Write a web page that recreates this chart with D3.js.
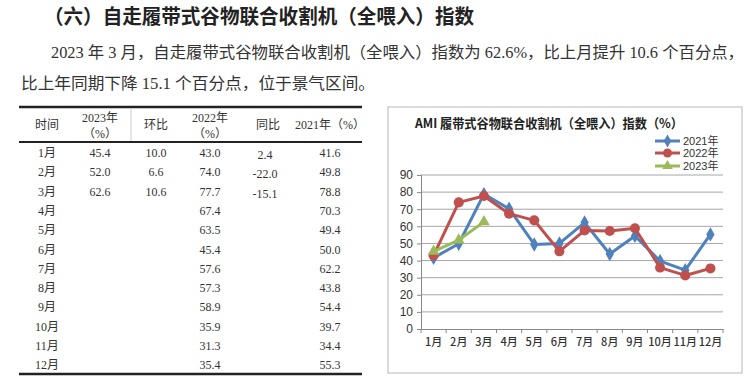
<!DOCTYPE html>
<html><head><meta charset="utf-8">
<script src="https://cdn.jsdelivr.net/npm/d3@7/dist/d3.min.js"></script>
<style>
html,body{margin:0;padding:0;background:#fff;}
svg{display:block;}
</style></head>
<body>
<svg id="c" width="750" height="385"></svg>
<script>
const months = ["1月","2月","3月","4月","5月","6月","7月","8月","9月","10月","11月","12月"];
const v2021 = [41.6,49.8,78.8,70.3,49.4,50.0,62.2,43.8,54.4,39.7,34.4,55.3];
const v2022 = [43.0,74.0,77.7,67.4,63.5,45.4,57.6,57.3,58.9,35.9,31.3,35.4];
const v2023 = [45.4,52.0,62.6];
const hb = ["10.0","6.6","10.6"];
const tb = ["2.4","-22.0","-15.1"];
const t2021 = ["41.6","49.8","78.8","70.3","49.4","50.0","62.2","43.8","54.4","39.7","34.4","55.3"];
const t2022 = ["43.0","74.0","77.7","67.4","63.5","45.4","57.6","57.3","58.9","35.9","31.3","35.4"];
const t2023 = ["45.4","52.0","62.6"];
const yTicks = [0,10,20,30,40,50,60,70,80,90];
const seriesNames = ["2021年","2022年","2023年"];
const colors = ["#4F81BD","#C0504D","#9BBB59"];

const svg = d3.select("#c");
const CJK = "'Noto Sans CJK SC','Noto Sans',sans-serif";
const SERIF = "'Liberation Serif','DejaVu Serif','Noto Sans CJK SC',serif";

// Title and paragraph
svg.append("text").attr("x",44).attr("y",24)
  .attr("font-family",CJK).attr("font-weight",700).attr("font-size",20).attr("fill","#222")
  .attr("textLength",430).attr("lengthAdjust","spacingAndGlyphs")
  .text("（六）自走履带式谷物联合收割机（全喂入）指数");
svg.append("text").attr("x",51).attr("y",58)
  .attr("font-family",SERIF).attr("font-size",16).attr("fill","#333")
  .attr("textLength",693).attr("lengthAdjust","spacingAndGlyphs")
  .text("2023 年 3 月，自走履带式谷物联合收割机（全喂入）指数为 62.6%，比上月提升 10.6 个百分点，");
svg.append("text").attr("x",21).attr("y",89)
  .attr("font-family",SERIF).attr("font-size",16).attr("fill","#333")
  .attr("textLength",354).attr("lengthAdjust","spacingAndGlyphs")
  .text("比上年同期下降 15.1 个百分点，位于景气区间。");

// Table
const tbl = svg.append("g");
const colX = [47,100,156,210,268,330];
tbl.append("line").attr("x1",19).attr("x2",362).attr("y1",107).attr("y2",107).attr("stroke","#222").attr("stroke-width",2.5);
tbl.append("line").attr("x1",19).attr("x2",362).attr("y1",142).attr("y2",142).attr("stroke","#222").attr("stroke-width",2);
tbl.append("line").attr("x1",19).attr("x2",362).attr("y1",374).attr("y2",374).attr("stroke","#222").attr("stroke-width",2.5);
tbl.append("line").attr("x1",131).attr("x2",131).attr("y1",108).attr("y2",141).attr("stroke","#ccc").attr("stroke-width",1);
const hdr = (x,y,t)=>tbl.append("text").attr("x",x).attr("y",y).attr("text-anchor","middle")
  .attr("dominant-baseline","central").attr("font-family",SERIF).attr("font-size",12).attr("fill","#333").text(t);
hdr(colX[0],125,"时间");
hdr(colX[1],118,"2023年");
hdr(colX[1],134,"（%）");
hdr(colX[2],125,"环比");
hdr(colX[3],118,"2022年");
hdr(colX[3],134,"（%）");
hdr(colX[4],125,"同比");
hdr(colX[5],125,"2021年（%）");
const rowY = i => 153 + i*19.3;
months.forEach((m,i)=>{
  hdr(colX[0],rowY(i),m);
  hdr(colX[3],rowY(i),t2022[i]);
  hdr(colX[5],rowY(i),t2021[i]);
});
t2023.forEach((v,i)=>hdr(colX[1],rowY(i),v));
hb.forEach((v,i)=>hdr(colX[2],rowY(i),v));
tb.forEach((v,i)=>hdr(colX[4]-3,rowY(i)+2,v));

// Chart
const ch = svg.append("g");
ch.append("rect").attr("x",388).attr("y",107).attr("width",354).attr("height",266)
  .attr("fill","#fff").attr("stroke","#b8b8b8").attr("stroke-width",1);
ch.append("text").attr("x",415).attr("y",128)
  .attr("font-family",CJK).attr("font-weight",700).attr("font-size",13).attr("fill","#222")
  .attr("textLength",268).attr("lengthAdjust","spacingAndGlyphs")
  .text("AMI 履带式谷物联合收割机（全喂入）指数（%）");

const x = d3.scaleBand().domain(months).range([421,723]);
const y = d3.scaleLinear().domain([0,90]).range([329,175]);

// grid
ch.append("g").selectAll("line").data(yTicks.filter(d=>d>0)).join("line")
  .attr("x1",421).attr("x2",723).attr("y1",d=>y(d)).attr("y2",d=>y(d))
  .attr("stroke","#a6a6a6").attr("stroke-width",1);

// y axis
const ya = ch.append("g").attr("transform","translate(421,0)")
  .call(d3.axisLeft(y).tickValues(yTicks).tickSize(4).tickPadding(4).tickFormat(d3.format("d")));
ya.select(".domain").attr("stroke","#888");
ya.selectAll(".tick line").attr("stroke","#888");
ya.selectAll("text").attr("font-family","'Liberation Sans',Arial,sans-serif").attr("font-size",12).attr("fill","#333");

// x axis
const xa = ch.append("g").attr("transform","translate(0,329)")
  .call(d3.axisBottom(x).tickSize(0).tickPadding(9));
xa.select(".domain").attr("stroke","#888");
xa.selectAll("text").attr("font-family",CJK).attr("font-weight",500).attr("font-size",11).attr("fill","#333");
const bounds = months.map(m=>x(m)).concat([x.range()[1]]);
xa.append("g").selectAll("line").data(bounds).join("line")
  .attr("x1",d=>d).attr("x2",d=>d).attr("y1",0).attr("y2",4).attr("stroke","#888");

// series
const cx = m => x(m)+x.bandwidth()/2;
const line = d3.line().x(d=>cx(d.m)).y(d=>y(d.v));
const data = [v2021,v2022,v2023].map(arr=>arr.map((v,i)=>({m:months[i],v})));
const markers = [d3.symbolDiamond, d3.symbolCircle, d3.symbolTriangle];
const msize = [60, 80, 60];
data.forEach((s,k)=>{
  const g = ch.append("g");
  g.append("path").datum(s).attr("d",line).attr("fill","none").attr("stroke",colors[k]).attr("stroke-width",3).attr("stroke-linejoin","round");
  g.selectAll("path.m").data(s).join("path").attr("class","m")
    .attr("transform",d=>`translate(${cx(d.m)},${y(d.v)})`)
    .attr("d",d3.symbol().type(markers[k]).size(msize[k])).attr("fill",colors[k]);
});

// legend
const lg = ch.append("g");
const ly = [141,153,166];
seriesNames.forEach((n,k)=>{
  lg.append("line").attr("x1",655).attr("x2",680).attr("y1",ly[k]).attr("y2",ly[k]).attr("stroke",colors[k]).attr("stroke-width",3);
  lg.append("path").attr("transform",`translate(667.5,${ly[k]})`).attr("d",d3.symbol().type(markers[k]).size(msize[k]*0.8)).attr("fill",colors[k]);
  lg.append("text").attr("x",683).attr("y",ly[k]).attr("dominant-baseline","central")
    .attr("font-family","'Liberation Sans','Noto Sans CJK SC',sans-serif").attr("font-size",11).attr("fill","#333").text(n);
});
</script>
</body></html>
